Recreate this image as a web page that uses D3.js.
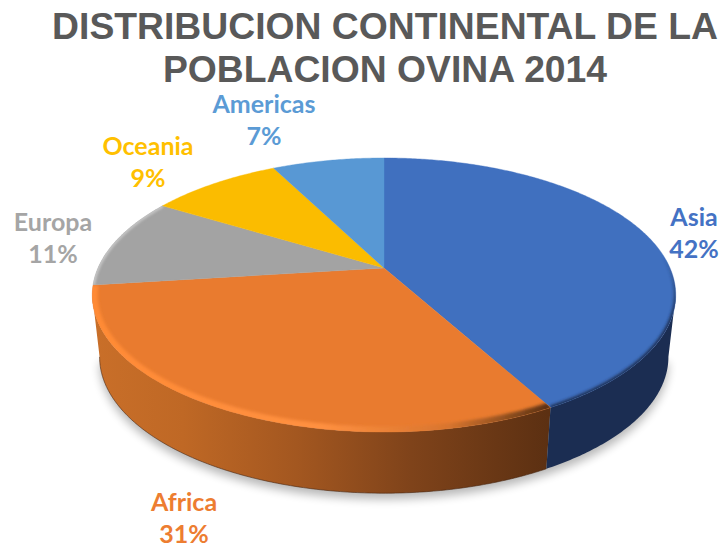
<!DOCTYPE html>
<html><head><meta charset="utf-8">
<style>html,body{margin:0;padding:0;background:#fff}svg{display:block}</style>
<script src="https://cdn.jsdelivr.net/npm/d3@7"></script></head>
<body><svg id="c" width="721" height="550"></svg>
<script>
const categories = ["Asia","Africa","Europa","Oceania","Americas"];
const values = [42, 31, 10.71, 8.8, 7.49];
const colors = ["#4070BF","#E97B2F","#A3A3A3","#FBBC00","#5898D4"];
const labelColors = ["#4472C4","#ED7D31","#A5A5A5","#FFC000","#5B9BD5"];
const titleLines = ["DISTRIBUCION CONTINENTAL DE LA","POBLACION OVINA 2014"];
const labelAnchors = [[694,226],[184,511],[53,231],[148,155],[264,113]];

const cx=384, cy=268, A=286, B=131.7, P=0.197, depth=62, shrink=0.975;
const svg=d3.select("#c");
const defs=svg.append("defs");
const proj=(t,bottom)=>{
  const d=1+P*Math.cos(t);
  const x=A*Math.sin(t)/d, y=-B*Math.cos(t)/d;
  return bottom?[cx+x*shrink, cy+y*0.995+depth]:[cx+x, cy+y];
};
const arcPts=(a0,a1,bottom)=>{
  const n=Math.max(2,Math.ceil(Math.abs(a1-a0)/0.01));
  return d3.range(n+1).map(i=>proj(a0+(a1-a0)*i/n,bottom));
};
const line=d3.line().curve(d3.curveLinear);
const sectorPath=(a0,a1)=>line([[cx,cy],...arcPts(a0,a1,false)])+"Z";
const sidePath=(a0,a1)=>line([...arcPts(a0,a1,false),...arcPts(a1,a0,true)])+"Z";

const pie=d3.pie().sort(null).value(d=>d)(values);
const tanR=Math.PI/2+Math.asin(P), tanL=2*Math.PI-tanR;

const blur=(id,s)=>defs.append("filter").attr("id",id).attr("x","-20%").attr("y","-20%").attr("width","140%").attr("height","140%")
  .append("feGaussianBlur").attr("stdDeviation",s);
blur("sh",5); blur("b1",1.4); blur("b2",0.9);

const grad=(id,x1,x2,y1,y2,stops)=>{
  const g=defs.append("linearGradient").attr("id",id).attr("gradientUnits","userSpaceOnUse")
    .attr("x1",x1).attr("x2",x2).attr("y1",y1).attr("y2",y2);
  stops.forEach(s=>g.append("stop").attr("offset",s[0]).attr("stop-color",s[1]).attr("stop-opacity",s[2]===undefined?1:s[2]));
};
grad("sideO",92,548,0,0,[[0,"#c96f29"],[0.2,"#bf6825"],[0.45,"#a35720"],[0.7,"#7f431a"],[1,"#5c3012"]]);
grad("rimO",92,548,0,0,[[0,"#ff8a35"],[0.5,"#ff9040"],[0.78,"#d9752e"],[0.92,"#8a4c1e"],[1,"#5c3012"]]);
grad("rimB",0,0,255,320,[[0,"#1b2d52",0],[1,"#1b2d52",1]]);

// drop shadow under the wall
svg.append("path").attr("d",line(arcPts(tanR,tanL,true))+"Z").attr("fill","#000").attr("opacity",0.28)
  .attr("transform","translate(0,6)").attr("filter","url(#sh)");

// walls
svg.append("path").attr("d",sidePath(pie[1].startAngle,tanL)).attr("fill","url(#sideO)");
svg.append("path").attr("d",sidePath(tanR,pie[0].endAngle)).attr("fill","#1b2d52");
svg.append("path").attr("d",line(arcPts(pie[1].startAngle,tanL,true))).attr("fill","none")
  .attr("stroke","#4a2610").attr("stroke-width",1).attr("opacity",0.6);

// top face
svg.append("g").selectAll("path").data(pie).join("path")
  .attr("d",d=>sectorPath(d.startAngle,d.endAngle))
  .attr("fill",(d,i)=>colors[i]).attr("stroke",(d,i)=>colors[i]).attr("stroke-width",0.4);

// bevel
pie.forEach((d,i)=>defs.append("clipPath").attr("id","cl"+i).append("path").attr("d",sectorPath(d.startAngle,d.endAngle)));
svg.append("g").attr("clip-path","url(#cl0)").append("g").attr("filter","url(#b1)").append("path")
  .attr("d",line(arcPts(1.2,pie[0].endAngle,false))).attr("fill","none")
  .attr("stroke","url(#rimB)").attr("stroke-width",4);
svg.append("g").attr("clip-path","url(#cl1)").append("path")
  .attr("d",line(arcPts(pie[1].startAngle,pie[1].endAngle,false))).attr("fill","none")
  .attr("stroke","url(#rimO)").attr("stroke-width",11).attr("filter","url(#b1)");
svg.append("g").attr("clip-path","url(#cl2)").append("path")
  .attr("d",line(arcPts(pie[2].startAngle,pie[2].endAngle,false))).attr("fill","none")
  .attr("stroke","#c4c4c4").attr("stroke-width",4).attr("filter","url(#b2)");

// title
svg.append("g").selectAll("text").data(titleLines).join("text")
  .attr("x",385).attr("y",(d,i)=>39+i*43).attr("text-anchor","middle")
  .attr("font-family","'Liberation Sans',Arial,sans-serif").attr("font-weight","700")
  .attr("font-size",37.3).attr("fill","#595959").text(d=>d);

// labels
const fmt=d3.format(".0f");
const lab=svg.append("g").attr("font-family","Lato,'Open Sans',sans-serif").attr("font-weight","700")
  .attr("font-size",25).attr("text-anchor","middle");
categories.forEach((c,i)=>{
  const [x,y]=labelAnchors[i];
  lab.append("text").attr("x",x).attr("y",y).attr("fill",labelColors[i]).text(c);
  lab.append("text").attr("x",x).attr("y",y+32).attr("fill",labelColors[i]).text(fmt(values[i])+"%");
});
</script></body></html>
